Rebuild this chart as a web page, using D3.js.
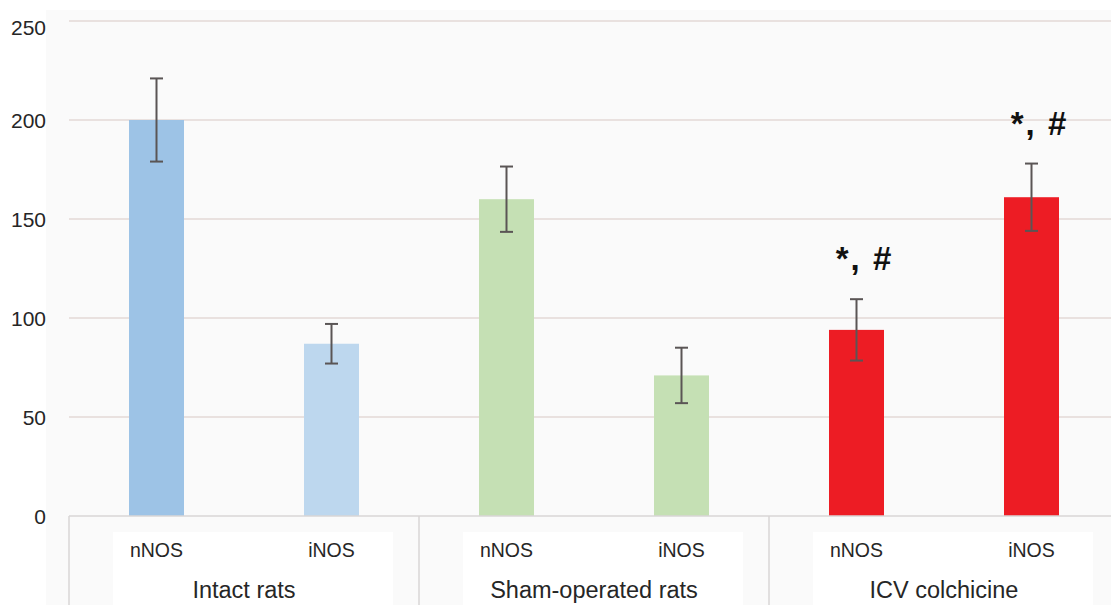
<!DOCTYPE html>
<html>
<head>
<meta charset="utf-8">
<script src="https://cdn.jsdelivr.net/npm/d3@7"></script>
<style>
  html, body { margin: 0; padding: 0; background: #ffffff; }
  svg { display: block; }
  text { font-family: "Liberation Sans", Arial, sans-serif; }
</style>
</head>
<body>
<svg id="chart" width="1111" height="605"></svg>
<script>
// Enzyme groups and per-bar values (mean ± error)
const groups = ["Intact rats", "Sham-operated rats", "ICV colchicine"];
const enzymes = ["nNOS", "iNOS"];
const means = [200, 87, 160, 71, 94, 161];
const errors = [21, 10, 16.5, 14, 15.5, 17];
const barColors = ["#9dc3e6", "#bdd7ee", "#c5e0b4", "#c5e0b4", "#ed1c24", "#ed1c24"];
const marks = ["", "", "", "", "*, #", "*, #"];
const yTicks = [0, 50, 100, 150, 200, 250];

const bars = means.map((m, i) => ({
  key: groups[Math.floor(i / 2)] + "|" + enzymes[i % 2],
  group: groups[Math.floor(i / 2)],
  enzyme: enzymes[i % 2],
  mean: m,
  err: errors[i],
  color: barColors[i],
  mark: marks[i]
}));

const svg = d3.select("#chart");
const plotLeft = 69, plotRight = 1119, plotTop = 21, plotBottom = 516;

const x = d3.scaleBand().domain(bars.map(d => d.key)).range([plotLeft, plotRight]).paddingInner(0).paddingOuter(0);
const y = d3.scaleLinear().domain([0, 250]).range([plotBottom, plotTop]);
const barW = 55;

// faint plot background
svg.append("rect").attr("x", 46).attr("y", 10).attr("width", 1111 - 46).attr("height", 605 - 10)
  .attr("fill", "#fafafa");

// white label panels under each group
const groupW = x.bandwidth() * 2;
groups.forEach((g, i) => {
  svg.append("rect")
    .attr("x", plotLeft + i * groupW + 44).attr("y", 532)
    .attr("width", groupW - 70).attr("height", 73)
    .attr("fill", "#ffffff");
});

// horizontal gridlines
svg.append("g")
  .selectAll("line").data(yTicks.filter(t => t > 0)).join("line")
  .attr("x1", plotLeft).attr("x2", 1111)
  .attr("y1", d => y(d)).attr("y2", d => y(d))
  .attr("stroke", "#e3d9d6").attr("stroke-width", 1.5);

// y axis labels
const yAxis = d3.axisLeft(y).tickValues(yTicks).tickSize(0).tickPadding(0);
const yg = svg.append("g").attr("transform", "translate(46,0)").call(yAxis);
yg.select(".domain").remove();
yg.selectAll("text")
  .attr("font-size", 21).attr("fill", "#262626")
  .attr("font-family", "Liberation Sans, Arial, sans-serif")
  .attr("dy", d => d === 250 ? "0.62em" : "0.35em");

// bars
svg.append("g").selectAll("rect").data(bars).join("rect")
  .attr("x", d => x(d.key) + x.bandwidth() / 2 - barW / 2)
  .attr("y", d => y(d.mean))
  .attr("width", barW)
  .attr("height", d => y(0) - y(d.mean))
  .attr("fill", d => d.color);

// error bars
const eb = svg.append("g").attr("stroke", "#5a5555").attr("stroke-width", 2);
bars.forEach(d => {
  const cx = x(d.key) + x.bandwidth() / 2;
  eb.append("line").attr("x1", cx).attr("x2", cx).attr("y1", y(d.mean + d.err)).attr("y2", y(d.mean - d.err));
  [d.mean + d.err, d.mean - d.err].forEach(v => {
    eb.append("line").attr("x1", cx - 6.5).attr("x2", cx + 6.5).attr("y1", y(v)).attr("y2", y(v));
  });
});

// significance marks
svg.append("g").selectAll("text").data(bars.filter(d => d.mark)).join("text")
  .attr("x", d => x(d.key) + x.bandwidth() / 2 + 8)
  .attr("y", d => y(d.mean + d.err) - 29)
  .attr("text-anchor", "middle")
  .attr("font-family", "Liberation Serif, Times New Roman, serif")
  .attr("font-weight", "bold")
  .attr("font-size", 33)
  .attr("letter-spacing", 2)
  .attr("fill", "#111")
  .text(d => d.mark);

// category axis: baseline and separators
const axisCol = "#d9d6d6";
svg.append("line").attr("x1", plotLeft).attr("x2", 1111).attr("y1", plotBottom).attr("y2", plotBottom)
  .attr("stroke", axisCol).attr("stroke-width", 1.5);
[0, 1, 2].forEach(i => {
  const sx = plotLeft + i * groupW;
  svg.append("line").attr("x1", sx).attr("x2", sx).attr("y1", plotBottom).attr("y2", 605)
    .attr("stroke", axisCol).attr("stroke-width", 1.5);
});

// enzyme labels
svg.append("g").selectAll("text").data(bars).join("text")
  .attr("x", d => x(d.key) + x.bandwidth() / 2)
  .attr("y", 557)
  .attr("text-anchor", "middle")
  .attr("font-size", 19.5)
  .attr("fill", "#262626")
  .text(d => d.enzyme);

// group labels
svg.append("g").selectAll("text").data(groups).join("text")
  .attr("x", (d, i) => plotLeft + i * groupW + groupW / 2)
  .attr("y", 598)
  .attr("text-anchor", "middle")
  .attr("font-size", 23.5)
  .attr("fill", "#262626")
  .text(d => d);
</script>
</body>
</html>
